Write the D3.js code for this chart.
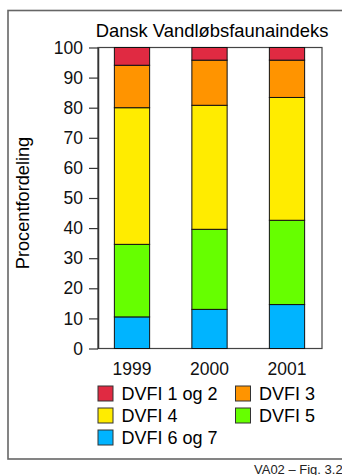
<!DOCTYPE html>
<html>
<head>
<meta charset="utf-8">
<script src="https://cdn.jsdelivr.net/npm/d3@7"></script>
<style>
  html, body { margin: 0; padding: 0; background: #fff; }
  svg { display: block; font-family: "Liberation Sans", Arial, sans-serif; }
</style>
</head>
<body>
<svg id="chart" width="342" height="475"></svg>
<script>
// Survey years
const years = ["1999", "2000", "2001"];
// Share of stations (%) in each DVFI class, bottom to top
const dvfi67  = [10.5, 13.0, 14.6];
const dvfi5   = [24.1, 26.6, 28.0];
const dvfi4   = [45.4, 41.2, 40.8];
const dvfi3   = [14.1, 15.0, 12.4];
const dvfi12  = [5.9, 4.2, 4.2];
const seriesNames = ["DVFI 6 og 7", "DVFI 5", "DVFI 4", "DVFI 3", "DVFI 1 og 2"];
const seriesColors = ["#00b4ff", "#66ff00", "#ffec00", "#ff9400", "#e02a42"];
const yTicks = [0, 10, 20, 30, 40, 50, 60, 70, 80, 90, 100];

const table = years.map((y, i) => ({
  year: y,
  "DVFI 6 og 7": dvfi67[i],
  "DVFI 5": dvfi5[i],
  "DVFI 4": dvfi4[i],
  "DVFI 3": dvfi3[i],
  "DVFI 1 og 2": dvfi12[i]
}));

const svg = d3.select("#chart");
const plot = { left: 98, right: 322, top: 47.5, bottom: 348.5 };

// Outer frame
svg.append("rect")
  .attr("x", 8).attr("y", 10.5)
  .attr("width", 345).attr("height", 448.5)
  .attr("fill", "none").attr("stroke", "#666").attr("stroke-width", 1.6);

// Title
svg.append("text")
  .attr("x", 212).attr("y", 37)
  .attr("text-anchor", "middle")
  .attr("font-size", 18.4)
  .text("Dansk Vandløbsfaunaindeks");

const y = d3.scaleLinear().domain([0, 100]).range([plot.bottom, plot.top]);
const step = 77.5;
const x = d3.scaleBand().domain(years)
  .range([132 - step / 2, 132 + step * 2.5])
  .paddingInner(0.545).paddingOuter(0.2725);

// Plot frame
svg.append("rect")
  .attr("x", plot.left).attr("y", plot.top)
  .attr("width", plot.right - plot.left).attr("height", plot.bottom - plot.top)
  .attr("fill", "#fff").attr("stroke", "#444").attr("stroke-width", 1.2);

// Stacked bars
const stack = d3.stack().keys(seriesNames)(table);
const color = d3.scaleOrdinal().domain(seriesNames).range(seriesColors);

svg.append("g").selectAll("g").data(stack).join("g")
  .attr("fill", d => color(d.key))
  .selectAll("rect").data(d => d).join("rect")
  .attr("x", d => x(d.data.year))
  .attr("width", x.bandwidth())
  .attr("y", d => y(d[1]))
  .attr("height", d => y(d[0]) - y(d[1]))
  .attr("stroke", "#111").attr("stroke-width", 1);

// Y axis
const yAxis = svg.append("g")
  .attr("transform", `translate(${plot.left},0)`)
  .call(d3.axisLeft(y).tickValues(yTicks).tickSize(9).tickPadding(6).tickSizeOuter(0));
yAxis.select(".domain").attr("stroke", "#333").attr("stroke-width", 1.5);
yAxis.selectAll(".tick line").attr("stroke", "#333").attr("stroke-width", 1.2);
yAxis.selectAll(".tick text")
  .attr("font-size", 17.5).attr("font-family", "Liberation Sans, Arial, sans-serif")
  .attr("fill", "#111");

// X labels
const xAxis = svg.append("g")
  .attr("transform", `translate(0,${plot.bottom})`)
  .call(d3.axisBottom(x).tickSize(0).tickPadding(14));
xAxis.select(".domain").remove();
xAxis.selectAll(".tick text")
  .attr("font-size", 17.5).attr("font-family", "Liberation Sans, Arial, sans-serif")
  .attr("fill", "#111");

// Y title
svg.append("text")
  .attr("transform", "translate(29,203) rotate(-90)")
  .attr("text-anchor", "middle")
  .attr("font-size", 18.2)
  .text("Procentfordeling");

// Legend
const legendItems = [
  { name: "DVFI 1 og 2", col: 0, row: 0 },
  { name: "DVFI 3", col: 1, row: 0 },
  { name: "DVFI 4", col: 0, row: 1 },
  { name: "DVFI 5", col: 1, row: 1 },
  { name: "DVFI 6 og 7", col: 0, row: 2 }
];
const lg = svg.append("g").selectAll("g").data(legendItems).join("g")
  .attr("transform", d => `translate(${d.col ? 235.5 : 98}, ${386 + d.row * 22})`);
lg.append("rect")
  .attr("width", 15).attr("height", 15)
  .attr("fill", d => color(d.name))
  .attr("stroke", "#333").attr("stroke-width", 1);
lg.append("text")
  .attr("x", 23.5).attr("y", 14)
  .attr("font-size", 18)
  .text(d => d.name);

// Figure reference
svg.append("text")
  .attr("x", 254).attr("y", 473.5)
  .attr("font-size", 13)
  .attr("fill", "#222")
  .text("VA02 – Fig. 3.2");
</script>
</body>
</html>
